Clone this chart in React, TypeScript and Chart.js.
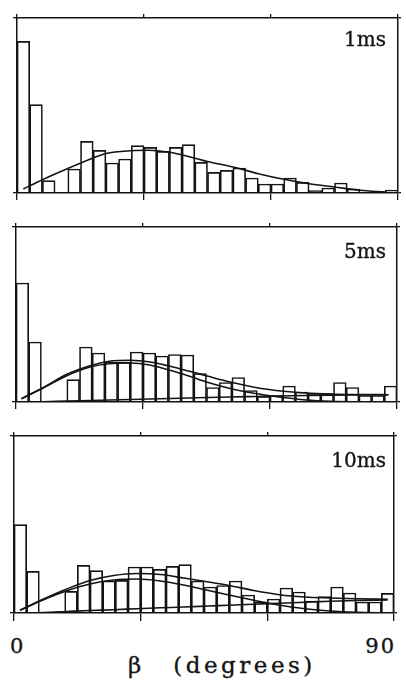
import React, { useEffect, useRef } from 'react';
import { Chart, registerables } from 'chart.js';

Chart.register(...registerables);

// ---- data (heights in arbitrary count units) ----
const binCenters = [
  1.5, 4.5, 7.5, 10.5, 13.5, 16.5, 19.5, 22.5, 25.5, 28.5,
  31.5, 34.5, 37.5, 40.5, 43.5, 46.5, 49.5, 52.5, 55.5, 58.5,
  61.5, 64.5, 67.5, 70.5, 73.5, 76.5, 79.5, 82.5, 85.5, 88.5,
];

const counts1ms = [
  151.7, 88.3, 12.3, 0, 24, 51.7, 42.7, 30, 34, 47.3,
  45.7, 41.7, 45.7, 48.3, 30.7, 20.7, 22.7, 25, 15, 9,
  9, 15, 10.7, 2.3, 5, 10, 4, 0, 0, 3,
];
const counts5ms = [
  119, 60, 0, 0, 22.3, 55, 49, 40, 40, 50,
  49, 46, 47.5, 47, 28.5, 14.5, 19.5, 24.5, 11.5, 5.5,
  6.5, 16, 10, 8.5, 8.5, 19.5, 14.5, 6.5, 6.5, 16,
];
const counts10ms = [
  88.3, 41.7, 0, 0, 21.7, 47.7, 42.3, 32, 32.7, 46,
  46, 43.7, 46.7, 48.3, 32, 26, 27.5, 32, 18, 11,
  14, 25, 21, 12, 16.5, 26, 20, 11, 11, 19.7,
];

// fitted curves
const fit1X = [1.5, 6, 12, 18, 21, 27, 31, 36, 41, 45, 51, 57, 63, 69, 75, 81, 87];
const fit1Y = [4, 13.3, 24.5, 35, 39.5, 42.3, 42.7, 40.7, 36, 31.5, 26, 19.3, 13.7, 9.3, 6, 2.7, 1];

const fit2X = [1.3, 6.5, 12, 17.5, 22, 27, 31.6, 36.4, 41, 45.4, 50.6, 56.6, 62.6, 68.5, 74.4, 80.6, 88];
const fit2Sum = [3.3, 14.5, 27.7, 36.3, 40.7, 41.7, 40, 35.7, 30.7, 25.7, 20, 14.5, 11, 9, 8, 7.5, 7.3];
const fit2A = [3.3, 14.2, 26.3, 35, 38.3, 39, 37, 31.7, 25.7, 19.5, 13.5, 8.5, 4.7, 2, 0.7, 0.2, 0];
const fit2B = [0, 0.3, 1, 1.5, 2, 2.5, 3, 3.5, 4, 4.5, 5, 5.5, 6, 6.5, 6.8, 7, 7.2];

const fit3X = [1.4, 7, 12.5, 18, 23.6, 29.1, 34.7, 40.2, 46.1, 50.9, 56.8, 62.9, 68.9, 74.8, 81, 88.5];
const fit3Sum = [2.7, 14, 24, 32.5, 37.5, 39.5, 38.5, 35, 31, 27.5, 22.5, 18.3, 16, 15, 14.2, 13.7];
const fit3A = [2.7, 13.3, 22.3, 29, 33, 34, 32, 28, 22.5, 18, 12.7, 7.7, 4.3, 2, 0.7, 0];
const fit3B = [0, 0.5, 1.5, 2.5, 3.3, 4.3, 5.2, 6, 7, 7.8, 8.8, 9.8, 10.8, 11.8, 12.5, 13];

const panelLabels = ['1ms', '5ms', '10ms'];
const xTickLabels = ['0', '90'];
const xAxisSymbol = 'β';
const xAxisUnit = '(degrees)';

// ---- rendering ----
const INK = '#141414';

type Curve = { x: number[]; y: number[] };

type PanelProps = {
  top: number;
  height: number;
  pad: { left: number; right: number; top: number; bottom: number };
  yMax: number;
  counts: number[];
  curves: Curve[];
  bottomTick: number;
};

function Panel({ top, height, pad, yMax, counts, curves, bottomTick }: PanelProps) {
  const ref = useRef<HTMLCanvasElement>(null);
  useEffect(() => {
    if (!ref.current) return;
    const zeroSize = (s: any) => {
      if (s.isHorizontal()) s.height = 0;
      else s.width = 0;
    };
    const yTicks = (s: any) => {
      s.ticks = [{ value: 0 }, { value: yMax }];
    };
    const gridBase = {
      display: true,
      drawOnChartArea: false,
      drawTicks: true,
      color: INK,
      lineWidth: 1.3,
      offset: false,
    };
    const border = { display: true, color: INK, width: 1.5 };
    const chart = new Chart(ref.current, {
      type: 'bar',
      data: {
        datasets: [
          ...curves.map((c) => ({
            type: 'line' as const,
            data: c.x.map((x, i) => ({ x, y: c.y[i] })),
            borderColor: INK,
            borderWidth: 1.6,
            pointRadius: 0,
            cubicInterpolationMode: 'monotone' as const,
            fill: false,
            order: 0,
            xAxisID: 'x',
            yAxisID: 'y',
          })),
          {
            type: 'bar' as const,
            data: binCenters.map((x, i) => ({ x, y: counts[i] })),
            backgroundColor: 'rgba(255,255,255,0)',
            borderColor: INK,
            borderWidth: 1,
            barPercentage: 1,
            categoryPercentage: 1,
            order: 1,
            xAxisID: 'x',
            yAxisID: 'y',
          },
        ],
      } as any,
      options: {
        responsive: false,
        animation: false,
        layout: { padding: pad },
        plugins: {
          legend: { display: false },
          tooltip: { enabled: false },
          title: { display: false },
        },
        scales: {
          x: {
            type: 'linear',
            position: 'bottom',
            min: 0,
            max: 90,
            offset: false,
            ticks: { display: false, stepSize: 30 },
            grid: { ...gridBase, tickLength: bottomTick },
            border,
            afterFit: zeroSize,
          },
          xTop: {
            type: 'linear',
            position: 'top',
            min: 0,
            max: 90,
            offset: false,
            ticks: { display: false, stepSize: 30 },
            grid: { ...gridBase, tickLength: 4 },
            border,
            afterFit: zeroSize,
          },
          y: {
            type: 'linear',
            position: 'left',
            min: 0,
            max: yMax,
            ticks: { display: false },
            afterBuildTicks: yTicks,
            grid: { ...gridBase, tickLength: 4 },
            border,
            afterFit: zeroSize,
          },
          yR: {
            type: 'linear',
            position: 'right',
            min: 0,
            max: yMax,
            ticks: { display: false },
            afterBuildTicks: yTicks,
            grid: { ...gridBase, tickLength: 3 },
            border,
            afterFit: zeroSize,
          },
        },
      } as any,
    });
    return () => chart.destroy();
  }, []);
  return (
    <canvas
      ref={ref}
      width={406}
      height={height}
      style={{ position: 'absolute', left: 0, top, display: 'block', width: 406, height }}
    />
  );
}

const serif = '"DejaVu Serif", "Liberation Serif", serif';
const textStroke = { WebkitTextStroke: '0.35px #141414' } as React.CSSProperties;

export default function App() {
  const labelStyle = (top: number): React.CSSProperties => ({
    position: 'absolute',
    right: 20,
    top,
    fontFamily: serif,
    fontSize: 20,
    lineHeight: '20px',
    color: INK,
    whiteSpace: 'nowrap',
    ...textStroke,
  });
  return (
    <div
      style={{
        position: 'absolute',
        left: 0,
        top: 0,
        width: 406,
        height: 681,
        background: '#fff',
        overflow: 'hidden',
      }}
    >
      <Panel
        top={0}
        height={210}
        pad={{ left: 17, right: 8, top: 18, bottom: 17 }}
        yMax={175}
        counts={counts1ms}
        curves={[{ x: fit1X, y: fit1Y }]}
        bottomTick={7}
      />
      <Panel
        top={210}
        height={210}
        pad={{ left: 16, right: 9, top: 17, bottom: 18 }}
        yMax={175}
        counts={counts5ms}
        curves={[
          { x: fit2X, y: fit2Sum },
          { x: fit2X, y: fit2A },
          { x: fit2X, y: fit2B },
        ]}
        bottomTick={7}
      />
      <Panel
        top={420}
        height={210}
        pad={{ left: 14, right: 12, top: 16, bottom: 17 }}
        yMax={177}
        counts={counts10ms}
        curves={[
          { x: fit3X, y: fit3Sum },
          { x: fit3X, y: fit3A },
          { x: fit3X, y: fit3B },
        ]}
        bottomTick={8}
      />
      <div style={labelStyle(29)}>{panelLabels[0]}</div>
      <div style={labelStyle(241)}>{panelLabels[1]}</div>
      <div style={labelStyle(450)}>{panelLabels[2]}</div>
      <div
        style={{
          position: 'absolute',
          left: 10,
          top: 636,
          fontFamily: serif,
          fontSize: 21,
          lineHeight: '21px',
          color: INK,
          ...textStroke,
        }}
      >
        {xTickLabels[0]}
      </div>
      <div
        style={{
          position: 'absolute',
          right: 10,
          top: 636,
          fontFamily: serif,
          fontSize: 21,
          lineHeight: '21px',
          letterSpacing: 2,
          color: INK,
          ...textStroke,
        }}
      >
        {xTickLabels[1]}
      </div>
      <div
        style={{
          position: 'absolute',
          left: 128,
          top: 654,
          fontFamily: serif,
          fontSize: 23,
          lineHeight: '23px',
          color: INK,
          whiteSpace: 'nowrap',
          ...textStroke,
        }}
      >
        <span>{xAxisSymbol}</span>
        <span style={{ marginLeft: 32, letterSpacing: 3.5 }}>{xAxisUnit}</span>
      </div>
    </div>
  );
}
